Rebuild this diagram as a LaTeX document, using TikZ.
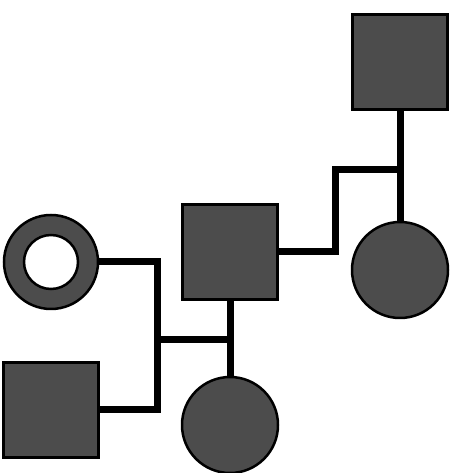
\documentclass[tikz,border=0pt]{standalone}
\usepackage{tikz}
\usetikzlibrary{calc}

\begin{document}
\begin{tikzpicture}[x=1pt, y=1pt,
	affected/.style={draw=black, line width=2.5pt, fill=black!70, inner sep=0pt},
	male/.style={affected, rectangle, minimum size=95pt},
	female/.style={affected, circle, minimum size=96pt},
	link/.style={line width=7pt}]
			\useasboundingbox (0,0) rectangle (454,473);
			\node[male] (gf) at (400,411) {};
			\node[female] (aunt) at (400,203) {};
			\node[male] (dad) at (230,221) {};
			\node[female, minimum size=94pt] (mom) at (51,211) {};
			\node[circle, draw=black, line width=2.5pt, fill=white, minimum size=54pt, inner sep=0pt] (momin) at (mom) {};
			\node[male] (other) at (51,63) {};
			\node[female] (kid) at (230,48) {};
			\coordinate (up) at (335,303);
			\coordinate (low) at (157,133);
			\draw[link] (gf.south) -- (aunt.north);
			\draw[link] (dad.east) -| (up) -- (up -| gf.south);
			\draw[link] (mom.east) -| (low) |- (other.east);
			\draw[link] (low) -- (low -| dad.south);
			\draw[link] (dad.south) -- (kid.north);
		\end{tikzpicture}
\end{document}
